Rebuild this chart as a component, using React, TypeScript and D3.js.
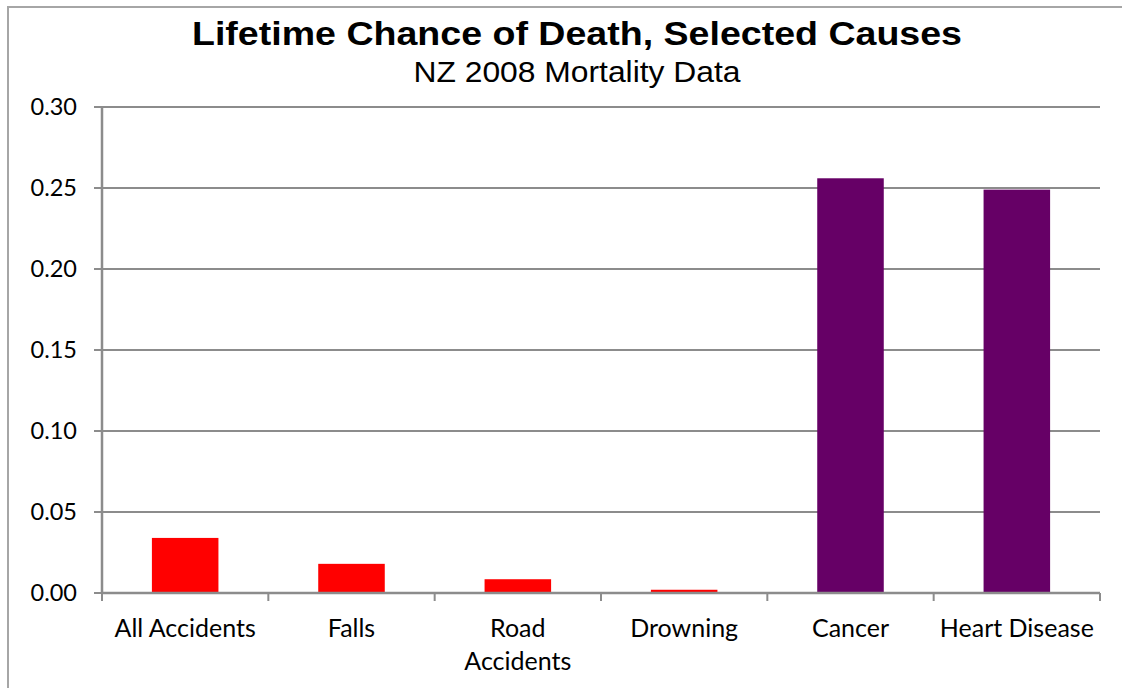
import React from "react";
import * as d3 from "d3";

const categories = ["All Accidents", "Falls", "Road Accidents", "Drowning", "Cancer", "Heart Disease"];
const values = [0.034, 0.018, 0.0085, 0.002, 0.256, 0.249];
const barColors = ["#ff0000", "#ff0000", "#ff0000", "#ff0000", "#660066", "#660066"];
const yTicks = [0, 0.05, 0.1, 0.15, 0.2, 0.25, 0.3];

const width = 1122;
const height = 688;
const margin = { top: 107, right: 22, bottom: 95, left: 102 };

const App: React.FC = () => {
  const x = d3.scaleBand<string>()
    .domain(categories)
    .range([margin.left, width - margin.right])
    .paddingInner(0.6)
    .paddingOuter(0.3);
  const y = d3.scaleLinear().domain([0, 0.3]).range([height - margin.bottom, margin.top]);
  const step = x.step();
  const bandStart = (c: string) => (x(c) ?? 0) - step * 0.3;
  const labelFont = "Lato, 'Open Sans', sans-serif";

  return (
    <div style={{ position: "absolute", left: 0, top: 0 }}>
      <svg width={width} height={height} style={{ display: "block", background: "#fff" }}>
        <rect x={8} y={7} width={1200} height={800} fill="#fff" stroke="#a6a6a6" strokeWidth={2} />
        <text x={577} y={45} textAnchor="middle" fontFamily="'Liberation Sans', Arial, sans-serif"
          fontWeight="bold" fontSize={33} textLength={770} lengthAdjust="spacingAndGlyphs">
          Lifetime Chance of Death, Selected Causes
        </text>
        <text x={577} y={82} textAnchor="middle" fontFamily="'Liberation Sans', Arial, sans-serif"
          fontSize={30} textLength={327} lengthAdjust="spacingAndGlyphs">
          NZ 2008 Mortality Data
        </text>

        {yTicks.filter((t) => t > 0).map((t) => (
          <line key={"g" + t} x1={margin.left} x2={width - margin.right} y1={y(t)} y2={y(t)}
            stroke="#8c8c8c" strokeWidth={2} />
        ))}
        {yTicks.map((t) => (
          <g key={"t" + t}>
            <line x1={margin.left - 8} x2={margin.left} y1={y(t)} y2={y(t)} stroke="#8c8c8c" strokeWidth={2} />
            <text x={77} y={y(t)} dy="0.35em" textAnchor="end" fontFamily={labelFont} fontSize={23.5} fill="#000">
              {d3.format(".2f")(t)}
            </text>
          </g>
        ))}

        {categories.map((c, i) => (
          <rect key={c} x={x(c)} y={y(values[i])} width={x.bandwidth()}
            height={y(0) - y(values[i])} fill={barColors[i]} />
        ))}

        <line x1={margin.left} x2={margin.left} y1={margin.top} y2={y(0) + 1} stroke="#8c8c8c" strokeWidth={2.5} />
        <line x1={margin.left} x2={width - margin.right} y1={y(0)} y2={y(0)} stroke="#8c8c8c" strokeWidth={2.5} />
        {categories.map((c) => (
          <line key={"ct" + c} x1={bandStart(c)} x2={bandStart(c)} y1={y(0)} y2={y(0) + 8}
            stroke="#8c8c8c" strokeWidth={2} />
        ))}
        <line x1={width - margin.right} x2={width - margin.right} y1={y(0)} y2={y(0) + 8}
          stroke="#8c8c8c" strokeWidth={2} />

        {categories.map((c) => {
          const cx = (x(c) ?? 0) + x.bandwidth() / 2;
          const lines = c === "Road Accidents" ? ["Road", "Accidents"] : [c];
          return (
            <text key={"l" + c} x={cx} y={637} textAnchor="middle" fontFamily={labelFont} fontSize={25} fill="#000">
              {lines.map((l, j) => (
                <tspan key={l} x={cx} dy={j === 0 ? 0 : 33}>{l}</tspan>
              ))}
            </text>
          );
        })}
      </svg>
    </div>
  );
};

export default App;
